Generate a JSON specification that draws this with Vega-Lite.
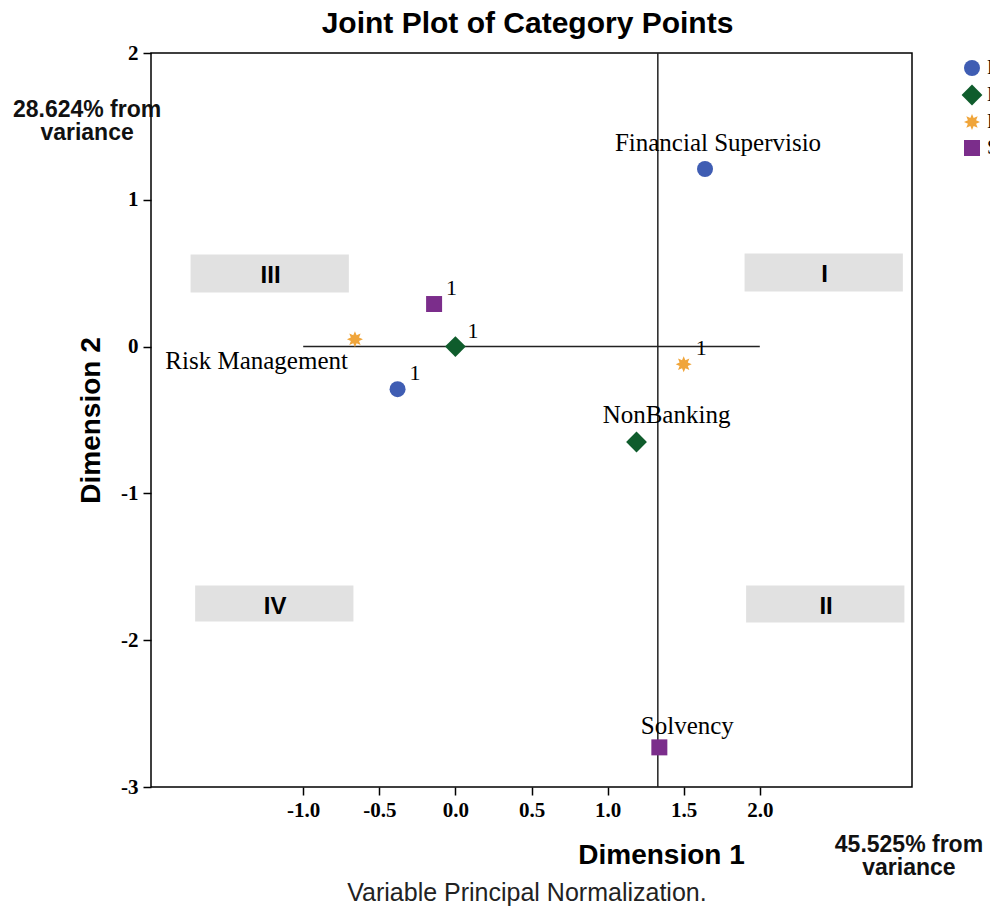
{
  "$schema": "https://vega.github.io/schema/vega-lite/v6.json",
  "width": 761,
  "height": 734,
  "autosize": "none",
  "padding": {"left": 151, "top": 53, "right": 78, "bottom": 124},
  "background": "white",
  "title": {
    "text": "Joint Plot of Category Points",
    "font": "Liberation Sans",
    "fontSize": 30,
    "fontWeight": "bold",
    "color": "black",
    "anchor": "middle",
    "frame": "group",
    "offset": 3,
    "dx": -4
  },
  "config": {
    "view": {"stroke": "black", "strokeWidth": 1.5},
    "axis": {
      "grid": false,
      "domain": false,
      "tickColor": "black",
      "tickWidth": 1.5,
      "tickSize": 8,
      "labelFont": "Liberation Serif",
      "labelFontWeight": "bold",
      "labelFontSize": 21,
      "labelColor": "black",
      "titleFont": "Liberation Sans",
      "titleFontWeight": "bold",
      "titleFontSize": 28,
      "titleColor": "black"
    },
    "legend": {
      "padding": 0,
      "symbolSize": 256,
      "symbolStrokeWidth": 0,
      "labelFont": "Liberation Serif",
      "labelFontSize": 20,
      "labelColor": "black",
      "rowPadding": 6,
      "labelOffset": 5
    }
  },
  "datasets": {
    "points": [
      {"series": "Financial Supervision", "label": "Financial Supervisio", "x": 1.64, "y": 1.21},
      {"series": "Financial Supervision", "label": "1", "x": -0.38, "y": -0.29},
      {"series": "NonBanking", "label": "NonBanking", "x": 1.19, "y": -0.65},
      {"series": "NonBanking", "label": "1", "x": 0.0, "y": 0.0},
      {"series": "Risk Management", "label": "Risk Management", "x": -0.66, "y": 0.05},
      {"series": "Risk Management", "label": "1", "x": 1.5, "y": -0.12},
      {"series": "Solvency", "label": "Solvency", "x": 1.34, "y": -2.73},
      {"series": "Solvency", "label": "1", "x": -0.14, "y": 0.29}
    ],
    "boxes": [
      {"label": "III", "x": -1.74, "x2": -0.7, "y": 0.368, "y2": 0.627},
      {"label": "I", "x": 1.9, "x2": 2.94, "y": 0.375, "y2": 0.634},
      {"label": "IV", "x": -1.71, "x2": -0.67, "y": -1.873, "y2": -1.628},
      {"label": "II", "x": 1.91, "x2": 2.95, "y": -1.88, "y2": -1.628}
    ],
    "hline": [{"x": -1, "x2": 2, "y": 0}],
    "vline": [{"x": 1.33, "y": -3, "y2": 2}],
    "notes": [
      {"text": "28.624% from\nvariance", "x": -2.42, "y": 1.61},
      {"text": "45.525% from\nvariance", "x": 2.98, "y": -3.396}
    ],
    "footnote": [{"text": "Variable Principal Normalization.", "x": 0.47, "y": -3.72}]
  },
  "layer": [
    {
      "data": {"name": "boxes"},
      "mark": {"type": "rect", "fill": "#e1e1e1", "stroke": null},
      "encoding": {
        "x": {
          "field": "x", "type": "quantitative",
          "scale": {"domain": [-2, 3], "nice": false, "zero": false},
          "axis": {
            "values": [-1, -0.5, 0, 0.5, 1, 1.5, 2],
            "labelExpr": "(datum.value < 0 ? '-' : '') + format(abs(datum.value), '.1f')",
            "title": "Dimension 1",
            "titleX": 510, "titleY": 68,
            "titleAlign": "center", "titleBaseline": "middle",
            "labelPadding": 4
          }
        },
        "x2": {"field": "x2"},
        "y": {
          "field": "y", "type": "quantitative",
          "scale": {"domain": [-3, 2], "nice": false, "zero": false},
          "axis": {
            "values": [-3, -2, -1, 0, 1, 2],
            "labelExpr": "(datum.value < 0 ? '-' : '') + format(abs(datum.value), 'd')",
            "title": "Dimension 2",
            "titleX": -60, "titleY": 367,
            "titleAngle": -90,
            "titleAlign": "center", "titleBaseline": "middle",
            "labelPadding": 5
          }
        },
        "y2": {"field": "y2"}
      }
    },
    {
      "data": {"name": "boxes"},
      "mark": {"type": "text", "font": "Liberation Sans", "fontWeight": "bold", "fontSize": 24, "color": "black", "align": "center", "baseline": "middle", "dx": 80, "dy": 21},
      "encoding": {
        "x": {"field": "x", "type": "quantitative", "title": "Dimension 1"},
        "y": {"field": "y2", "type": "quantitative", "title": "Dimension 2"},
        "text": {"field": "label"}
      }
    },
    {
      "data": {"name": "hline"},
      "mark": {"type": "rule", "color": "#222222", "strokeWidth": 1.5},
      "encoding": {
        "x": {"field": "x", "type": "quantitative", "title": "Dimension 1"},
        "x2": {"field": "x2"},
        "y": {"field": "y", "type": "quantitative", "title": "Dimension 2"}
      }
    },
    {
      "data": {"name": "vline"},
      "mark": {"type": "rule", "color": "#222222", "strokeWidth": 1.5},
      "encoding": {
        "x": {"field": "x", "type": "quantitative", "title": "Dimension 1"},
        "y": {"field": "y", "type": "quantitative", "title": "Dimension 2"},
        "y2": {"field": "y2"}
      }
    },
    {
      "data": {"name": "points"},
      "mark": {"type": "point", "filled": true, "opacity": 1, "size": 256, "strokeWidth": 0},
      "encoding": {
        "x": {"field": "x", "type": "quantitative", "title": "Dimension 1"},
        "y": {"field": "y", "type": "quantitative", "title": "Dimension 2"},
        "color": {
          "field": "series", "type": "nominal",
          "scale": {
            "domain": ["Financial Supervision", "NonBanking", "Risk Management", "Solvency"],
            "range": ["#3f5db3", "#0f5c2c", "#f0a53a", "#7b2d8b"]
          },
          "legend": {"title": null, "orient": "none", "legendX": 811, "legendY": 5}
        },
        "shape": {
          "field": "series", "type": "nominal",
          "scale": {
            "domain": ["Financial Supervision", "NonBanking", "Risk Management", "Solvency"],
            "range": [
              "circle",
              "M0,-1.3L1.3,0L0,1.3L-1.3,0Z",
              "M0,-1L0.21,-0.51L0.71,-0.71L0.51,-0.21L1,0L0.51,0.21L0.71,0.71L0.21,0.51L0,1L-0.21,0.51L-0.71,0.71L-0.51,0.21L-1,0L-0.51,-0.21L-0.71,-0.71L-0.21,-0.51Z",
              "square"
            ]
          },
          "legend": {"title": null, "orient": "none", "legendX": 811, "legendY": 5}
        }
      }
    },
    {
      "data": {"name": "points"},
      "transform": [{"filter": "datum.label == '1'"}],
      "mark": {"type": "text", "font": "Liberation Serif", "fontSize": 22, "color": "black", "align": "left", "baseline": "middle", "dx": 12, "dy": -16},
      "encoding": {
        "x": {"field": "x", "type": "quantitative", "title": "Dimension 1"},
        "y": {"field": "y", "type": "quantitative", "title": "Dimension 2"},
        "text": {"field": "label"}
      }
    },
    {
      "data": {"name": "points"},
      "transform": [{"filter": "datum.label == 'Financial Supervisio'"}],
      "mark": {"type": "text", "font": "Liberation Serif", "fontSize": 25, "color": "black", "align": "center", "baseline": "middle", "dx": 13, "dy": -26},
      "encoding": {
        "x": {"field": "x", "type": "quantitative", "title": "Dimension 1"},
        "y": {"field": "y", "type": "quantitative", "title": "Dimension 2"},
        "text": {"field": "label"}
      }
    },
    {
      "data": {"name": "points"},
      "transform": [{"filter": "datum.label == 'NonBanking'"}],
      "mark": {"type": "text", "font": "Liberation Serif", "fontSize": 25, "color": "black", "align": "center", "baseline": "middle", "dx": 30, "dy": -27},
      "encoding": {
        "x": {"field": "x", "type": "quantitative", "title": "Dimension 1"},
        "y": {"field": "y", "type": "quantitative", "title": "Dimension 2"},
        "text": {"field": "label"}
      }
    },
    {
      "data": {"name": "points"},
      "transform": [{"filter": "datum.label == 'Solvency'"}],
      "mark": {"type": "text", "font": "Liberation Serif", "fontSize": 25, "color": "black", "align": "center", "baseline": "middle", "dx": 28, "dy": -21},
      "encoding": {
        "x": {"field": "x", "type": "quantitative", "title": "Dimension 1"},
        "y": {"field": "y", "type": "quantitative", "title": "Dimension 2"},
        "text": {"field": "label"}
      }
    },
    {
      "data": {"name": "points"},
      "transform": [{"filter": "datum.label == 'Risk Management'"}],
      "mark": {"type": "text", "font": "Liberation Serif", "fontSize": 25, "color": "black", "align": "right", "baseline": "middle", "dx": -7, "dy": 22},
      "encoding": {
        "x": {"field": "x", "type": "quantitative", "title": "Dimension 1"},
        "y": {"field": "y", "type": "quantitative", "title": "Dimension 2"},
        "text": {"field": "label"}
      }
    },
    {
      "data": {"name": "notes"},
      "mark": {"type": "text", "font": "Liberation Sans", "fontWeight": "bold", "fontSize": 23, "color": "#111111", "align": "center", "baseline": "middle", "lineBreak": "\n", "lineHeight": 23},
      "encoding": {
        "x": {"field": "x", "type": "quantitative", "title": "Dimension 1"},
        "y": {"field": "y", "type": "quantitative", "title": "Dimension 2"},
        "text": {"field": "text"}
      }
    },
    {
      "data": {"name": "footnote"},
      "mark": {"type": "text", "font": "Liberation Sans", "fontSize": 25, "color": "#222222", "align": "center", "baseline": "middle"},
      "encoding": {
        "x": {"field": "x", "type": "quantitative", "title": "Dimension 1"},
        "y": {"field": "y", "type": "quantitative", "title": "Dimension 2"},
        "text": {"field": "text"}
      }
    }
  ]
}
